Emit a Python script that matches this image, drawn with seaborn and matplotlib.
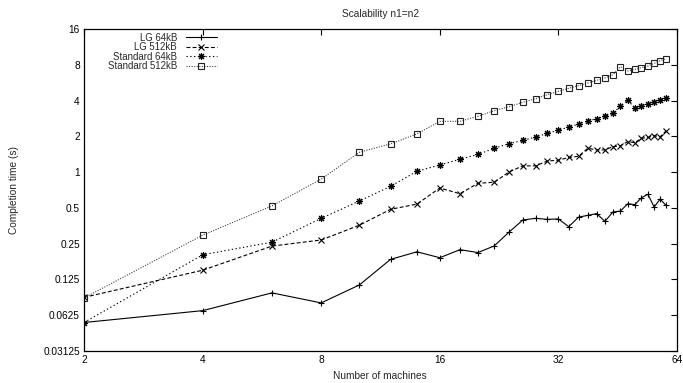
import matplotlib
matplotlib.use("Agg")
import matplotlib.pyplot as plt
import seaborn as sns
import pandas as pd
from matplotlib.ticker import FixedLocator, FixedFormatter, NullLocator

# ---- data ----
machines = [2, 4, 6, 8, 10, 12, 14, 16, 18, 20, 22, 24, 26, 28, 30,
            32, 34, 36, 38, 40, 42, 44, 46, 48, 50, 52, 54, 56, 58, 60]
lg_64kb = [0.054, 0.068, 0.096, 0.079, 0.112, 0.184, 0.213, 0.190, 0.222, 0.210,
           0.239, 0.313, 0.395, 0.408, 0.400, 0.403, 0.347, 0.418, 0.432, 0.447,
           0.385, 0.461, 0.470, 0.542, 0.532, 0.609, 0.650, 0.508, 0.593, 0.525]
lg_512kb = [0.088, 0.149, 0.238, 0.268, 0.357, 0.486, 0.538, 0.735, 0.658, 0.805,
            0.823, 1.005, 1.13, 1.13, 1.24, 1.26, 1.33, 1.36, 1.59, 1.54,
            1.54, 1.64, 1.67, 1.81, 1.77, 1.93, 1.96, 2.03, 1.99, 2.22]
std_64kb = [0.054, 0.201, 0.257, 0.408, 0.571, 0.759, 1.017, 1.15, 1.285, 1.41,
            1.59, 1.74, 1.85, 1.98, 2.12, 2.26, 2.40, 2.54, 2.70, 2.82,
            2.97, 3.13, 3.61, 4.03, 3.49, 3.63, 3.78, 3.93, 4.06, 4.19]
std_512kb = [0.087, 0.294, 0.52, 0.873, 1.47, 1.73, 2.10, 2.68, 2.68, 2.96,
             3.30, 3.56, 3.88, 4.16, 4.50, 4.80, 5.09, 5.36, 5.64, 5.94,
             6.22, 6.63, 7.74, 7.12, 7.36, 7.60, 7.85, 8.26, 8.70, 9.05]
series_names = ["LG 64kB", "LG 512kB", "Standard 64kB", "Standard 512kB"]
x_ticks = [2, 4, 8, 16, 32, 64]
x_tick_labels = ["2", "4", "8", "16", "32", "64"]
y_ticks = [0.03125, 0.0625, 0.125, 0.25, 0.5, 1, 2, 4, 8, 16]
y_tick_labels = ["0.03125", "0.0625", "0.125", "0.25", "0.5", "1", "2", "4", "8", "16"]

df = pd.DataFrame({
    "machines": machines * 4,
    "time": lg_64kb + lg_512kb + std_64kb + std_512kb,
    "series": [n for n in series_names for _ in machines],
})

sns.set_theme(style="white")
plt.rcParams['font.family'] = ['Liberation Sans', 'DejaVu Sans']
FS = 7.3

fig = plt.figure(figsize=(6.83, 3.83), dpi=100)
ax = fig.add_axes([84 / 683, 1 - 350.7 / 383, (677 - 84) / 683, (350.7 - 29.3) / 383])

styles = {
    "LG 64kB": dict(color="black", linestyle="-", marker="+", markersize=5,
                    markerfacecolor="black", markeredgecolor="black"),
    "LG 512kB": dict(color="black", linestyle=(0, (3.5, 2)), marker="x", markersize=4,
                     markerfacecolor="black", markeredgecolor="black"),
    "Standard 64kB": dict(color="black", linestyle=(0, (1.2, 2.2)), marker=(8, 2, 0),
                          markersize=5, markerfacecolor="black", markeredgecolor="black"),
    "Standard 512kB": dict(color="#444444", linestyle=(0, (1, 1.3)), marker="s",
                           markersize=4.6, markerfacecolor="none", markeredgecolor="#222222"),
}

for name in series_names:
    sub = df[df["series"] == name]
    sns.lineplot(data=sub, x="machines", y="time", ax=ax, label=name,
                 linewidth=0.8, markeredgewidth=0.8, **styles[name])

ax.set_xscale("log", base=2)
ax.set_yscale("log", base=2)
ax.set_xlim(2, 64)
ax.set_ylim(0.03125, 16)
ax.xaxis.set_major_locator(FixedLocator(x_ticks))
ax.xaxis.set_major_formatter(FixedFormatter(x_tick_labels))
ax.yaxis.set_major_locator(FixedLocator(y_ticks))
ax.yaxis.set_major_formatter(FixedFormatter(y_tick_labels))
ax.xaxis.set_minor_locator(NullLocator())
ax.yaxis.set_minor_locator(NullLocator())
ax.tick_params(which="major", direction="in", length=4, width=0.8, top=True, right=True,
               labelsize=FS, colors="black", pad=3)
for s in ax.spines.values():
    s.set_color("black")
    s.set_linewidth(0.9)
ax.set_xlabel("")
ax.set_ylabel("")
ax.grid(False)

handles = ax.get_lines()[:4]
leg = ax.legend(handles, series_names, loc="upper left", bbox_to_anchor=(0.04, 0.99),
                frameon=False, markerfirst=False, fontsize=6.9, handlelength=3.3,
                handletextpad=0.9, labelspacing=-0.05, borderpad=0, borderaxespad=0)

fig.text(380 / 683, 1 - 14 / 383, "Scalability n1=n2", ha="center", va="center", fontsize=FS)
fig.text(380 / 683, 1 - 376 / 383, "Number of machines", ha="center", va="center", fontsize=FS)
fig.text(14 / 683, 1 - 190 / 383, "Completion time (s)", ha="center", va="center",
         rotation=90, fontsize=FS)

fig.savefig("out.png", dpi=100, facecolor="white")
